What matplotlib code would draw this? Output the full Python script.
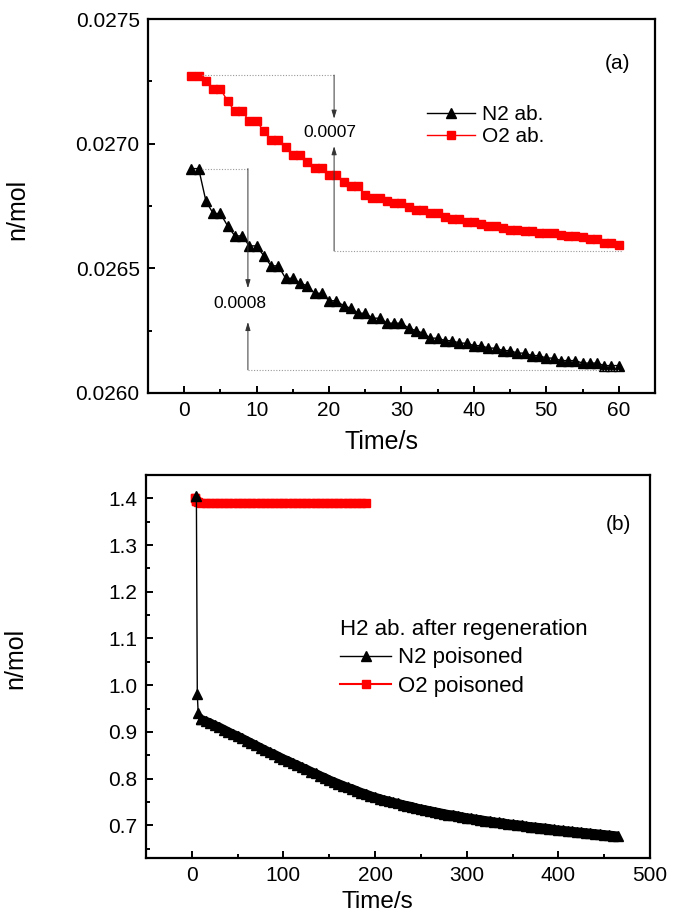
import matplotlib
matplotlib.use("Agg")
import matplotlib.pyplot as plt
from matplotlib.ticker import MultipleLocator, FormatStrFormatter

plt.rcParams['font.family'] = ['Liberation Sans', 'DejaVu Sans']

# ---- panel (a): absorption, 1 point per second ----
time_a = list(range(1, 61))
n2_ab = [0.02690, 0.02690, 0.02677, 0.02672, 0.02672, 0.02667, 0.02663, 0.02663,
         0.02659, 0.02659, 0.02655, 0.02651, 0.02651, 0.02646, 0.02646, 0.02644,
         0.02643, 0.02640, 0.02640, 0.02637, 0.02637, 0.02635, 0.02634, 0.02632,
         0.02632, 0.02630, 0.02630, 0.02628, 0.02628, 0.02628, 0.02626, 0.02625,
         0.02624, 0.02622, 0.02622, 0.02621, 0.02621, 0.02620, 0.02620, 0.02619,
         0.02619, 0.02618, 0.02618, 0.02617, 0.02617, 0.02616, 0.02616, 0.02615,
         0.02615, 0.02614, 0.02614, 0.02613, 0.02613, 0.02613, 0.02612, 0.02612,
         0.02612, 0.02611, 0.02611, 0.02611]
o2_ab = [0.027270, 0.027270, 0.027250, 0.027220, 0.027220, 0.027170, 0.027130, 0.027130,
         0.027090, 0.027090, 0.027050, 0.027015, 0.027015, 0.026987, 0.026955, 0.026955,
         0.026927, 0.026903, 0.026903, 0.026875, 0.026875, 0.026846, 0.026830, 0.026830,
         0.026794, 0.026782, 0.026782, 0.026770, 0.026762, 0.026762, 0.026746, 0.026734,
         0.026734, 0.026722, 0.026722, 0.026706, 0.026698, 0.026698, 0.026686, 0.026686,
         0.026678, 0.026670, 0.026670, 0.026662, 0.026654, 0.026654, 0.026650, 0.026650,
         0.026642, 0.026642, 0.026642, 0.026634, 0.026630, 0.026630, 0.026626, 0.026618,
         0.026618, 0.026602, 0.026602, 0.026594]

# drop annotations (a)
o2_drop = {"x": 20.7, "hi": 0.027275, "lo": 0.026570, "label": "0.0007"}
n2_drop = {"x": 8.8, "hi": 0.026900, "lo": 0.026093, "label": "0.0008"}

# ---- panel (b): H2 absorption after regeneration ----
time_n2b = [5, 6, 7] + list(range(10, 470, 5))
n2_poisoned = [1.405, 0.980, 0.940,
               0.927, 0.923, 0.919, 0.914, 0.910, 0.905, 0.900, 0.895, 0.891, 0.886,
               0.881, 0.876, 0.871, 0.866, 0.861, 0.856, 0.852, 0.847, 0.842, 0.838,
               0.833, 0.829, 0.824, 0.820, 0.815, 0.811, 0.806, 0.802, 0.797, 0.793,
               0.789, 0.785, 0.781, 0.778, 0.774, 0.770, 0.767, 0.763, 0.760, 0.757,
               0.754, 0.752, 0.749, 0.747, 0.744, 0.742, 0.740, 0.737, 0.735, 0.733,
               0.731, 0.729, 0.727, 0.725, 0.723, 0.722, 0.720, 0.718, 0.716, 0.715,
               0.713, 0.712, 0.710, 0.709, 0.707, 0.706, 0.705, 0.703, 0.702, 0.701,
               0.700, 0.698, 0.697, 0.696, 0.695, 0.694, 0.693, 0.691, 0.690, 0.689,
               0.688, 0.687, 0.686, 0.685, 0.684, 0.683, 0.682, 0.681, 0.680, 0.679,
               0.678, 0.677]
time_o2b = [3, 5, 7] + list(range(10, 195, 5))
o2_poisoned = [1.400, 1.395, 1.392,
               1.391, 1.391, 1.390, 1.390, 1.390, 1.390, 1.390, 1.390, 1.390, 1.390,
               1.390, 1.390, 1.390, 1.390, 1.390, 1.390, 1.390, 1.390, 1.390, 1.390,
               1.390, 1.390, 1.390, 1.390, 1.390, 1.390, 1.390, 1.390, 1.390, 1.390,
               1.390, 1.390, 1.390, 1.390, 1.390, 1.390, 1.390]

fig = plt.figure(figsize=(6.86, 9.18), dpi=100)
ax1 = fig.add_axes([0.2157, 0.5719, 0.739, 0.4074])
ax2 = fig.add_axes([0.2128, 0.0654, 0.7347, 0.4172])


def style_axes(ax):
    for sp in ax.spines.values():
        sp.set_linewidth(1.6)
    ax.tick_params(axis='both', which='major', direction='in', length=5, width=1.4,
                   labelsize=15, pad=6)
    ax.tick_params(axis='both', which='minor', direction='in', length=2.8, width=1.4)
    ax.tick_params(top=False, right=False, which='both')


# panel (a)
ax1.plot(time_a, n2_ab, color='black', lw=1.0, marker='^', ms=6.5, label='N2 ab.')
ax1.plot(time_a, o2_ab, color='red', lw=1.0, marker='s', ms=5.3, label='O2 ab.')

dot = dict(color='#999999', lw=0.8, linestyle=(0, (1, 1.5)))
arr = dict(arrowstyle='-|>,head_length=0.5,head_width=0.15', color='#333333',
           lw=0.7, shrinkA=0, shrinkB=0)

# O2 drop
ax1.plot([2.5, o2_drop["x"]], [o2_drop["hi"], o2_drop["hi"]], **dot)
ax1.plot([o2_drop["x"], 60.4], [o2_drop["lo"], o2_drop["lo"]], **dot)
ax1.annotate('', xy=(o2_drop["x"], 0.027100), xytext=(o2_drop["x"], o2_drop["hi"]),
             arrowprops=arr)
ax1.annotate('', xy=(o2_drop["x"], 0.026990), xytext=(o2_drop["x"], o2_drop["lo"]),
             arrowprops=arr)
ax1.text(20.1, 0.027045, o2_drop["label"], fontsize=12.5, ha='center', va='center')

# N2 drop
ax1.plot([2.5, n2_drop["x"]], [n2_drop["hi"], n2_drop["hi"]], **dot)
ax1.plot([n2_drop["x"], 60.1], [n2_drop["lo"], n2_drop["lo"]], **dot)
ax1.annotate('', xy=(n2_drop["x"], 0.026420), xytext=(n2_drop["x"], n2_drop["hi"]),
             arrowprops=arr)
ax1.annotate('', xy=(n2_drop["x"], 0.026285), xytext=(n2_drop["x"], n2_drop["lo"]),
             arrowprops=arr)
ax1.text(7.7, 0.026360, n2_drop["label"], fontsize=12.5, ha='center', va='center')

ax1.set_xlim(-5, 65)
ax1.set_ylim(0.0260, 0.0275)
ax1.xaxis.set_major_locator(MultipleLocator(10))
ax1.xaxis.set_minor_locator(MultipleLocator(5))
ax1.yaxis.set_major_locator(MultipleLocator(0.0005))
ax1.yaxis.set_minor_locator(MultipleLocator(0.00025))
ax1.yaxis.set_major_formatter(FormatStrFormatter('%.4f'))
style_axes(ax1)
ax1.set_xlabel('Time/s', fontsize=18)
ax1.set_ylabel('n/mol', fontsize=18)
ax1.yaxis.set_label_coords(-0.235, 0.49)
ax1.xaxis.set_label_coords(0.46, -0.1)
ax1.text(0.927, 0.882, '(a)', transform=ax1.transAxes, fontsize=15, ha='center', va='center')
ax1.legend(loc='upper left', bbox_to_anchor=(0.55, 0.77), frameon=False, fontsize=15,
           handlelength=2.3, handletextpad=0.35, labelspacing=0.15, borderpad=0,
           borderaxespad=0)

# panel (b): dense samples overlap into solid bands
ax2.plot(time_o2b, o2_poisoned, color='red', lw=5, marker='s', ms=5.3,
         solid_capstyle='butt', zorder=2)
ax2.plot(time_o2b[:2], o2_poisoned[:2], color='red', lw=1.5, marker='s', ms=5.3,
         label='O2 poisoned', zorder=2)
ax2.plot(time_n2b[3:], n2_poisoned[3:], color='black', lw=6.5, marker='^', ms=6.5,
         solid_capstyle='butt', zorder=3)
ax2.plot(time_n2b[:4], n2_poisoned[:4], color='black', lw=1.0, marker='^', ms=6.5,
         label='N2 poisoned', zorder=3)
ax2.set_xlim(-50, 500)
ax2.set_ylim(0.63, 1.45)
ax2.xaxis.set_major_locator(MultipleLocator(100))
ax2.xaxis.set_minor_locator(MultipleLocator(50))
ax2.yaxis.set_major_locator(MultipleLocator(0.1))
ax2.yaxis.set_minor_locator(MultipleLocator(0.05))
ax2.yaxis.set_major_formatter(FormatStrFormatter('%.1f'))
style_axes(ax2)
ax2.set_xlabel('Time/s', fontsize=17.5)
ax2.set_ylabel('n/mol', fontsize=18)
ax2.yaxis.set_label_coords(-0.235, 0.52)
ax2.xaxis.set_label_coords(0.46, -0.085)
ax2.text(0.937, 0.87, '(b)', transform=ax2.transAxes, fontsize=15, ha='center', va='center')
h, l = ax2.get_legend_handles_labels()
ax2.legend(h[::-1], l[::-1], title='H2 ab. after regeneration', title_fontsize=16,
           alignment='left', loc='upper left', bbox_to_anchor=(0.385, 0.625), frameon=False,
           fontsize=16, handlelength=2.3, handletextpad=0.3, labelspacing=0.35,
           borderpad=0, borderaxespad=0)

fig.savefig('out.png', dpi=100)
